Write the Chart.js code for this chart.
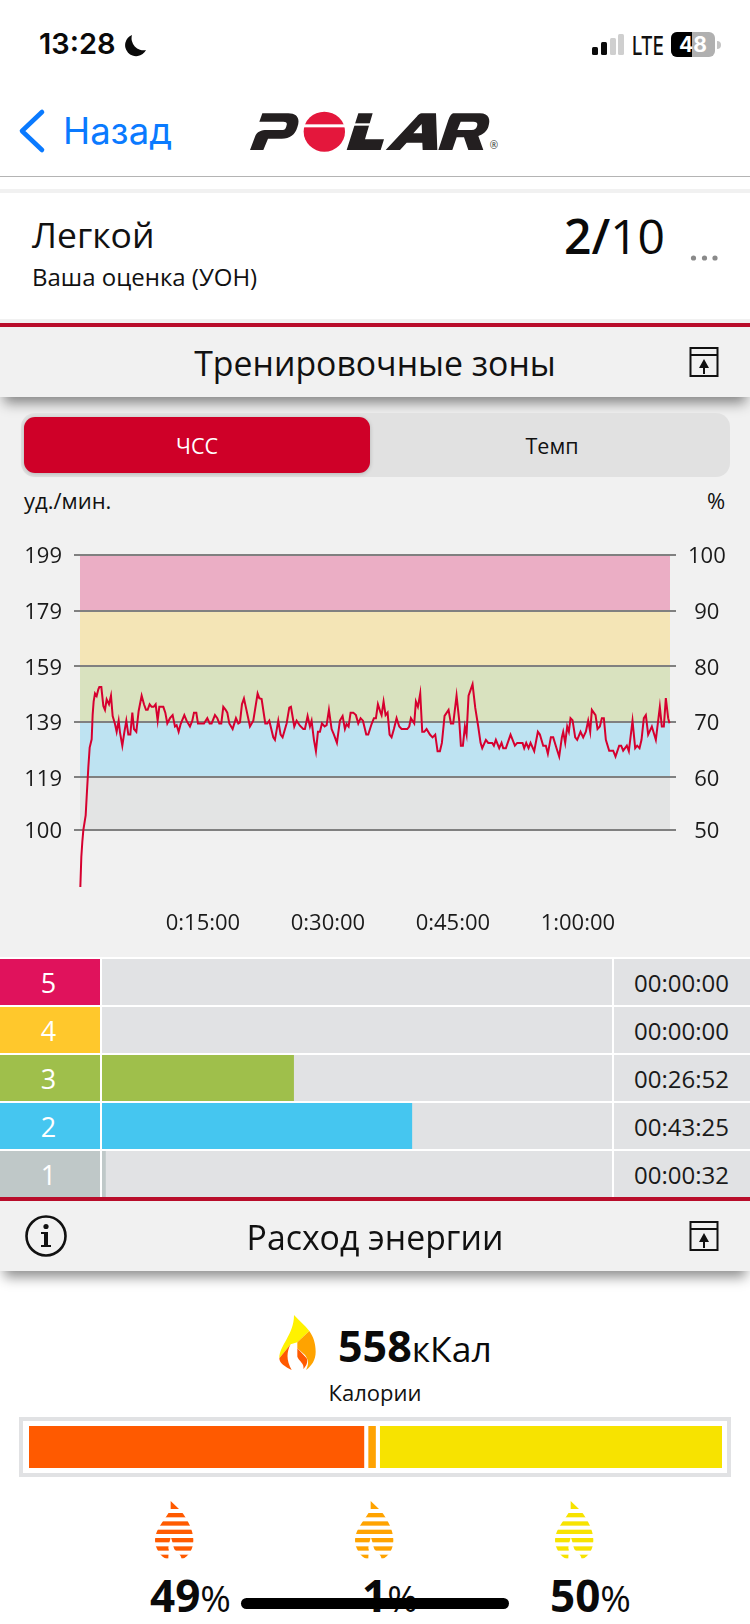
<!DOCTYPE html>
<html lang="ru">
<head>
<meta charset="utf-8">
<title>Тренировочные зоны</title>
<script src="https://cdn.jsdelivr.net/npm/chart.js@4"></script>
<style>
html, body { margin: 0; padding: 0; background: #fff; }
#page { position: relative; width: 750px; height: 1624px; overflow: hidden; background: #fff; font-family: "Open Sans", sans-serif; color: #111; }
.b { position: absolute; }
.t { position: absolute; white-space: nowrap; }
canvas { position: absolute; display: block; }
.head { position: absolute; left: 0; width: 750px; height: 70px; background: #f1f1f1; box-shadow: 0 10px 12px -4px rgba(0,0,0,.45); }
.cell { position: absolute; background: #e1e2e4; }
</style>
</head>
<body>
<div id="page">
  <!-- status bar -->
  <div class="t" style="left:39px;top:26px;font:600 29px/36px Inter;color:#0a0a0a">13:28</div>
  <svg class="b" style="left:122px;top:33px" width="26" height="26" viewBox="0 0 26 26"><path d="M10 2 A11 11 0 1 0 24 17 A12 12 0 0 1 10 2Z" fill="#0a0a0a"/></svg>
  <svg class="b" style="left:590px;top:30px" width="132" height="30" viewBox="0 0 132 30">
    <rect x="2" y="17" width="6" height="8" rx="1.5" fill="#0a0a0a"/><rect x="11" y="12" width="6" height="13" rx="1.5" fill="#0a0a0a"/>
    <rect x="20" y="8" width="6" height="17" rx="1.5" fill="#cfcfcf"/><rect x="28" y="4" width="6" height="21" rx="1.5" fill="#cfcfcf"/>
    <text x="42" y="24.5" font-family="Inter" font-weight="500" font-size="25" textLength="32" lengthAdjust="spacingAndGlyphs" fill="#111">LTE</text>
    <rect x="81" y="2" width="44" height="25" rx="6" fill="#b0b0b0"/>
    <path d="M87 2 H102 V27 H87 A6 6 0 0 1 81 21 V8 A6 6 0 0 1 87 2Z" fill="#000"/>
    <text x="103" y="22" text-anchor="middle" font-family="Inter" font-weight="700" font-size="21" fill="#fff">48</text>
    <path d="M127 11 a4 4 0 0 1 0 8Z" fill="#c4c4c4"/>
  </svg>

  <!-- nav -->
  <svg class="b" style="left:15px;top:106px" width="34" height="50" viewBox="0 0 34 50"><path d="M27 6 L7 25 L27 44" fill="none" stroke="#0a7aff" stroke-width="4.6" stroke-linecap="round" stroke-linejoin="round"/></svg>
  <div class="t" style="left:63px;top:108px;font:400 36.5px/46px Inter;color:#0a7aff">Назад</div>
  <svg class="b" style="left:240px;top:100px" width="270" height="65" viewBox="0 0 810 195">
    <title>POLAR</title>
    <g fill="#231f20" fill-rule="evenodd">
      <path d="M67 40 H145 C170 40 182 55 172 82 C165 105 150 116 125 116 H84 L70 150 H30 L45 110 C50 95 65 90 80 90 H128 C135 90 138 85 140 75 C142 68 138 65 130 65 H58 Z"/>
      <path d="M355 40 H398 L375 118 H432 L422 150 H320 Z"/>
      <path d="M545 40 H588 L592 150 H548 L547 128 H500 L480 150 H437 L530 50 C535 44 540 40 545 40Z M520 100 H546 L545 72Z"/>
      <path d="M640 40 H720 C748 40 752 60 745 80 C740 95 730 102 715 108 L730 150 H685 L672 112 H650 L637 150 H595 L625 60 C630 47 635 40 640 40Z M662 65 L652 90 H695 C705 90 710 85 712 75 C713 68 708 65 700 65Z"/>
    </g>
    <ellipse cx="253" cy="95" rx="62" ry="60" fill="#e4173c"/>
    <rect x="185" y="73" width="136" height="9" fill="#fff"/>
    <rect x="335" y="70" width="66" height="7" fill="#fff"/>
    <text x="762" y="148" text-anchor="middle" font-family="Open Sans" font-size="30" fill="#333">®</text>
  </svg>
  <div class="b" style="left:0;top:176px;width:750px;height:1px;background:#b4b4b4"></div>
  <div class="b" style="left:0;top:189px;width:750px;height:4px;background:#f1f1f1"></div>

  <!-- rating -->
  <div class="t" style="left:32px;top:211px;font:400 35.5px/46px 'Open Sans'">Легкой</div>
  <div class="t" style="left:32px;top:262px;font:400 24px/30px 'Open Sans'">Ваша оценка (УОН)</div>
  <div class="t" style="left:564px;top:204px;font:400 48px/64px 'Open Sans';color:#0a0a0a"><b style="font-weight:600">2/</b>10</div>
  <svg class="b" style="left:688px;top:252px" width="32" height="12"><circle cx="5.5" cy="6" r="2.6" fill="#8a8a8a"/><circle cx="16.5" cy="6" r="2.6" fill="#8a8a8a"/><circle cx="27" cy="6" r="2.6" fill="#8a8a8a"/></svg>

  <!-- grey section -->
  <div class="b" style="left:0;top:319px;width:750px;height:638px;background:#f1f1f1"></div>
  <div class="b" style="left:0;top:323px;width:750px;height:4px;background:#b90d2b"></div>
  <div class="head" style="top:327px"></div>
  <div class="t" style="left:0;width:750px;text-align:center;top:340px;font:400 33.8px/46px 'Open Sans'">Тренировочные зоны</div>
  <svg class="b" style="left:688px;top:346px" width="32" height="32" viewBox="0 0 32 32"><path d="M2.5 2 H29.5 V30 H2.5Z M2.5 9 H29.5" fill="none" stroke="#111" stroke-width="2"/><path d="M16 13 L21 22 H17 V28 H15 V22 H11Z" fill="#111"/></svg>

  <!-- toggle -->
  <div class="b" style="left:21px;top:413px;width:709px;height:64px;background:#e1e1e1;border-radius:14px"></div>
  <div class="b" style="left:24px;top:417px;width:346px;height:56px;background:#cf0028;border-radius:11px;box-shadow:0 1px 4px rgba(0,0,0,.2)"></div>
  <div class="t" style="left:24px;width:346px;text-align:center;top:432px;font:400 21.5px/28px 'Open Sans';color:#fff">ЧСС</div>
  <div class="t" style="left:370px;width:364px;text-align:center;top:432px;font:400 21.5px/28px 'Open Sans';color:#111">Темп</div>

  <div class="t" style="left:24px;top:485px;font:400 22px/30px 'Open Sans'">уд./мин.</div>
  <div class="t" style="left:707px;top:485px;font:400 22px/30px 'Open Sans'">%</div>

  <canvas id="hrChart" width="750" height="420" style="left:0;top:530px;width:750px;height:420px"></canvas>

  <!-- zones -->
  <div class="b" style="left:0;top:957px;width:750px;height:240px;background:#fff"></div>
  <div id="zoneRows"></div>
  <canvas id="zoneChart" width="510" height="240" style="left:102px;top:958px;width:510px;height:240px"></canvas>

  <!-- energy -->
  <div class="b" style="left:0;top:1197px;width:750px;height:4px;background:#b90d2b"></div>
  <div class="head" style="top:1201px"></div>
  <div class="t" style="left:0;width:750px;text-align:center;top:1214px;font:400 33.8px/46px 'Open Sans'">Расход энергии</div>
  <svg class="b" style="left:24px;top:1214px" width="44" height="44" viewBox="0 0 44 44"><circle cx="22" cy="22" r="19.5" fill="none" stroke="#111" stroke-width="2.6"/><circle cx="22" cy="12.5" r="2.6" fill="#111"/><path d="M17 18 H24 V31 H27 V33 H17 V31 H20 V20 H17Z" fill="#111"/></svg>
  <svg class="b" style="left:688px;top:1220px" width="32" height="32" viewBox="0 0 32 32"><path d="M2.5 2 H29.5 V30 H2.5Z M2.5 9 H29.5" fill="none" stroke="#111" stroke-width="2"/><path d="M16 13 L21 22 H17 V28 H15 V22 H11Z" fill="#111"/></svg>

  <svg class="b" style="left:270px;top:1305px" width="60" height="75" viewBox="0 0 180 225">
    <path d="M72 30 C85 45 105 60 118 78 L82 112 L62 118 L28 160 C28 120 72 90 72 30Z" fill="#fff200"/>
    <path d="M118 78 C130 95 137 115 137 140 C137 165 125 182 108 195 C118 175 115 165 105 150 L82 130 L82 112Z" fill="#ffa300"/>
    <path d="M28 160 L62 118 C50 140 48 165 65 195 C45 185 28 175 28 160Z" fill="#ff5a00"/>
    <path d="M82 130 L110 160 C115 172 108 185 100 192 C104 175 88 170 82 155Z" fill="#ff5a00"/>
  </svg>
  <div class="t" style="left:338px;top:1317px;font:700 43px/58px 'Open Sans';color:#0a0a0a">558<span style="font-weight:500;font-size:35.5px">кКал</span></div>
  <div class="t" style="left:0;width:750px;text-align:center;top:1378px;font:400 22px/28px 'Open Sans'">Калории</div>

  <div class="b" style="left:19px;top:1417px;width:704px;height:52px;border:4px solid #e1e2e4;background:#fff"></div>
  <canvas id="calChart" width="693" height="42" style="left:28.5px;top:1426px;width:693px;height:42px"></canvas>

  <div id="drops"></div>

  <div class="t" style="left:150px;top:1565px;font:700 44px/60px 'Open Sans';color:#0a0a0a">49<span style="font-weight:400;font-size:37px">%</span></div>
  <div class="t" style="left:362px;top:1565px;font:700 44px/60px 'Open Sans';color:#0a0a0a">1<span style="font-weight:400;font-size:37px">%</span></div>
  <div class="t" style="left:550px;top:1565px;font:700 44px/60px 'Open Sans';color:#0a0a0a">50<span style="font-weight:400;font-size:37px">%</span></div>
  <div class="b" style="left:241px;top:1598px;width:268px;height:11px;border-radius:6px;background:#000"></div>
</div>

<script>
// heart rate curve
const timeMin = [0.04,0.16,0.28,0.4,0.68,0.8,1.0,1.16,1.4,1.52,1.64,1.8,2.0,2.2,2.32,2.56,2.8,3.0,3.2,3.48,3.72,3.92,4.2,4.4,4.64,4.8,5.08,5.32,5.56,5.8,6.04,6.28,6.48,6.76,7.04,7.4,7.68,7.92,8.12,8.36,8.6,8.84,9.08,9.32,9.52,10.0,10.24,10.48,10.8,11.12,11.4,11.6,11.84,12.08,12.52,12.8,13.2,13.48,13.68,13.96,14.16,14.88,15.28,15.56,15.8,16.2,16.48,16.72,16.96,17.2,17.48,17.68,17.92,18.32,18.72,19.0,19.2,19.44,19.68,19.92,20.4,20.8,21.32,21.52,21.8,22.24,22.48,22.72,23.2,23.4,23.8,24.08,24.32,24.8,25.12,25.32,25.72,26.0,26.4,26.8,27.0,27.32,27.6,27.8,28.08,28.32,28.56,28.8,29.04,29.36,29.6,29.88,30.2,30.48,30.84,31.2,31.4,31.52,31.8,32.0,32.24,32.48,32.8,33.12,33.4,33.68,33.96,34.36,34.6,35.0,35.28,35.52,35.76,36.08,36.2,36.44,36.68,36.92,37.16,37.4,37.68,38.0,38.32,38.6,39.28,39.52,39.72,40.12,40.32,40.56,40.84,41.08,41.32,41.6,42.0,42.32,42.64,42.92,43.2,43.44,43.76,44.24,44.52,44.8,45.2,45.52,45.72,45.96,46.2,46.4,46.64,47.12,47.44,47.8,48.08,48.28,48.72,49.0,49.2,49.48,49.68,49.92,50.32,50.6,50.8,51.12,51.68,52.2,52.48,53.12,53.32,53.56,53.84,54.08,54.52,54.96,55.2,55.6,55.92,56.16,56.52,56.8,57.2,57.52,57.84,58.0,58.24,58.48,58.68,58.88,59.12,59.44,59.68,60.08,60.4,60.72,61.0,61.24,61.44,61.88,62.12,62.4,62.64,62.88,63.12,63.52,64.0,64.28,64.72,64.96,65.2,65.64,65.88,66.32,66.64,66.88,67.16,67.4,67.68,67.92,68.2,68.64,69.12,69.6,69.84,70.08,70.32,70.6,70.76];
const heartRate = [79.5,90.4,95.8,100,105.3,111.9,122.6,129.7,132.7,141.6,146.4,149.2,148.3,150.7,151.5,151.5,144.7,143.3,147.1,145.3,148.4,141.1,138.2,135.4,139.4,135.2,130.4,135.2,139.4,134.4,134.4,142.3,136.4,135.4,142.9,148.4,145.3,143.3,143.3,145.3,144.4,144.4,145.3,139.4,144.4,144.4,142.3,138.4,140.3,141.4,137.3,137.8,135.4,138.2,141.4,139.4,137.3,139.4,142.3,142.3,138.4,138.4,140.3,138.4,138.4,141.4,140.3,138.4,138.4,144.4,143.3,142.3,138.4,136.4,140.3,138.4,138.8,145.3,147.4,144.1,137.3,139.4,149.2,147.5,147.2,138.4,138.4,139.4,133.4,132.5,139.4,134.4,133.4,138.4,144.1,144.4,137.3,139.4,137.6,136.4,136.4,141.1,137.3,139.4,132.5,128.4,135.4,135.4,138.4,137.3,137.8,143.3,136.4,134.4,131.4,139.4,140.5,141.1,136.4,138.2,137.3,142.3,142.3,141.4,138.4,140.3,139.4,134.4,134.4,138.2,140.3,140.3,145.3,142.3,141.4,146.3,141.4,142.3,134.4,133.4,136.4,140.3,137.3,136.4,136.4,137.3,140.3,138.4,146.3,144.4,149.2,135.4,135.4,136.4,134.4,133.4,134.4,128.4,128.4,131.4,141.1,143.3,138.4,138.4,148.4,139.4,130.4,130.4,137.3,134.4,148.4,152.5,144.1,137.3,131.4,129.5,132.5,131.4,131.4,131.4,130.4,132.5,129.5,131.4,129.5,129.5,134.4,130.4,131.4,131.4,129.5,131.4,129.5,131.4,128.4,135.4,134.4,130.4,130.4,127.5,133.4,133.4,129.5,126.5,133.4,135.4,131.4,137.3,135.4,140.3,139.6,133.4,132.5,135.4,133.4,135.4,139.4,135.4,143.3,141.4,136.4,137.3,140.3,140.3,132.5,128.6,128.6,126.5,130.4,130.4,128.6,130.4,128.4,139.4,129.5,130.4,129.5,132.5,140.3,141.4,134.4,137.3,132.5,144.4,137.3,137.3,147.5,140.3,138.5];

const bpmTicks = [199,179,159,139,119,100];
const pctTicks = [100,90,80,70,60,50];
const xTickValues = [15,30,45,60];
const xTickLabels = ['0:15:00','0:30:00','0:45:00','1:00:00'];
const bandColors = ['#ebaec5','#f4e5b6','#d9e2bf','#bee3f2','#e3e4e4'];

const zoneLabels = ['5','4','3','2','1'];
const zoneMinutes = [0,0,26.87,43.42,0.53];
const zoneTimes = ['00:00:00','00:00:00','00:26:52','00:43:25','00:00:32'];
const zoneColors = ['#e0125c','#ffc82c','#9fbf4b','#45c6f0','#bfc8c8'];

const calPercent = [49,1,50];
const calColors = ['#ff5a00','#ffa300','#f7e300'];

Chart.defaults.font.family = '"Open Sans"';
Chart.defaults.color = '#111';
Chart.defaults.animation = false;
Chart.defaults.plugins.legend.display = false;
Chart.defaults.plugins.tooltip.enabled = false;

// zone bands go under the grid lines, so draw them first
const bandsPlugin = {
  id: 'bands',
  beforeDraw(chart) {
    const { ctx, chartArea, scales } = chart;
    bandColors.forEach((c, i) => {
      const top = scales.y.getPixelForValue(bpmTicks[i]);
      const bottom = scales.y.getPixelForValue(bpmTicks[i + 1]);
      ctx.fillStyle = c;
      ctx.fillRect(chartArea.left, top, chartArea.width, bottom - top);
    });
  }
};

const useTicks = (vals) => (scale) => { scale.ticks = vals.map(v => ({ value: v })); };

new Chart(document.getElementById('hrChart'), {
  type: 'line',
  plugins: [bandsPlugin],
  data: {
    datasets: [{
      data: timeMin.map((t, i) => ({ x: t, y: heartRate[i] })),
      borderColor: '#d6002f',
      borderWidth: 2,
      pointRadius: 0,
      tension: 0,
      clip: false
    }]
  },
  options: {
    responsive: false,
    layout: { autoPadding: false, padding: { top: 24 } },
    scales: {
      x: {
        type: 'linear',
        min: 0,
        max: 70.82,
        afterBuildTicks: useTicks(xTickValues),
        afterFit: (s) => { s.height = 63; },
        grid: { display: false },
        border: { display: false },
        ticks: {
          autoSkip: false,
          maxRotation: 0,
          padding: 16,
          labelOffset: -2,
          font: { size: 22 },
          color: '#1a1a1a',
          callback: (v, i) => xTickLabels[i]
        }
      },
      y: {
        min: 79.5,
        max: 199,
        position: 'left',
        afterBuildTicks: useTicks(bpmTicks),
        afterFit: (s) => { s.width = 80; },
        grid: { color: '#808080', lineWidth: 2, tickLength: 6, tickColor: '#808080' },
        border: { display: false },
        ticks: {
          autoSkip: false,
          crossAlign: 'center',
          padding: 12,
          labelOffset: 2,
          font: { size: 22 },
          color: '#1a1a1a',
          callback: (v) => String(v)
        }
      },
      y2: {
        min: 79.5,
        max: 199,
        position: 'right',
        afterBuildTicks: useTicks(bpmTicks),
        afterFit: (s) => { s.width = 80; },
        grid: { drawOnChartArea: false, color: '#808080', lineWidth: 2, tickLength: 6, tickColor: '#808080' },
        border: { display: false },
        ticks: {
          autoSkip: false,
          crossAlign: 'center',
          padding: 12,
          labelOffset: 2,
          font: { size: 22 },
          color: '#1a1a1a',
          callback: (v, i) => String(pctTicks[i])
        }
      }
    }
  }
});

// rows behind the zone bars
const rows = document.getElementById('zoneRows');
zoneLabels.forEach((z, i) => {
  const top = 959 + i * 48;
  rows.insertAdjacentHTML('beforeend',
    `<div class="cell" style="left:0;top:${top}px;width:100px;height:46px;background:${zoneColors[i]}"></div>` +
    `<div class="t" style="left:0;width:97px;text-align:center;top:${top + 4}px;font:400 27px/40px 'Open Sans';color:#fff">${z}</div>` +
    `<div class="cell" style="left:102px;top:${top}px;width:510px;height:46px"></div>` +
    `<div class="cell" style="left:614px;top:${top}px;width:136px;height:46px"></div>` +
    `<div class="t" style="left:634px;top:${top + 8}px;font:400 24px/32px 'Open Sans';color:#1a1a1a">${zoneTimes[i]}</div>`);
});

new Chart(document.getElementById('zoneChart'), {
  type: 'bar',
  data: {
    labels: zoneLabels,
    datasets: [{
      data: zoneMinutes,
      backgroundColor: zoneColors,
      barPercentage: 0.958,
      categoryPercentage: 1
    }]
  },
  options: {
    indexAxis: 'y',
    responsive: false,
    layout: { autoPadding: false },
    scales: {
      x: { display: false, min: 0, max: 71.4 },
      y: { display: false }
    }
  }
});

// white gaps between the three calorie parts
const calGap = 0.7;
const calSets = [];
calPercent.forEach((p, i) => {
  if (i > 0) calSets.push({ data: [calGap], backgroundColor: 'transparent' });
  calSets.push({ data: [p], backgroundColor: calColors[i] });
});

new Chart(document.getElementById('calChart'), {
  type: 'bar',
  data: {
    labels: ['Калории'],
    datasets: calSets.map(s => ({ ...s, stack: 'cal', barPercentage: 1, categoryPercentage: 1 }))
  },
  options: {
    indexAxis: 'y',
    responsive: false,
    layout: { autoPadding: false },
    scales: {
      x: { display: false, stacked: true, min: 0, max: 101.4 },
      y: { display: false, stacked: true }
    }
  }
});

// striped drops
const dropX = [140, 340, 540];
const dropShape = 'M92 18 L117 42 C135 60 160 100 160 135 C160 160 150 180 125 195 L85 195 C60 185 45 160 45 135 C45 100 80 70 92 42 Z';
const dropNotch = 'M92 125 C100 145 100 160 105 165 C115 175 125 180 125 197 L85 197 C85 175 88 165 85 160 C85 145 92 135 92 125Z';
dropX.forEach((x, i) => {
  let stripes = '';
  for (let y = 42; y < 195; y += 25) stripes += `<rect x="30" y="${y}" width="150" height="12" fill="#fff"/>`;
  document.getElementById('drops').insertAdjacentHTML('beforeend',
    `<svg class="b" style="left:${x}px;top:1495px" width="100" height="75" viewBox="0 0 300 225"><path d="${dropShape}" fill="${calColors[i]}"/>${stripes}<path d="${dropNotch}" fill="#fff"/><rect x="30" y="190" width="150" height="12" fill="#fff"/></svg>`);
});
</script>
</body>
</html>
